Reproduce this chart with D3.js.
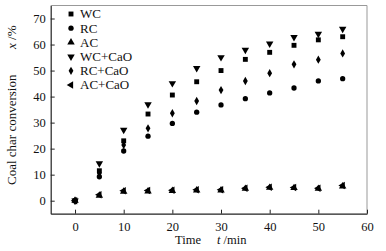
<!DOCTYPE html>
<html><head><meta charset="utf-8">
<script src="https://cdn.jsdelivr.net/npm/d3@7"></script>
<style>body{margin:0;background:#fff}svg{display:block}text{font-family:"Liberation Serif","Times New Roman",serif;fill:#111}</style>
</head><body><svg id="c" width="386" height="251"></svg>
<script>
const times = [0,5,10,15,20,25,30,35,40,45,50,55];
const WC     = [0,11.5,23.0,33.3,40.6,45.7,50.0,54.3,57.0,59.7,61.8,63.0];
const RC     = [0,9.2,19.1,24.8,29.7,34.0,36.8,39.2,41.4,43.3,46.0,46.9];
const AC     = [0,2.0,3.5,3.6,3.8,4.0,4.0,4.6,5.0,4.9,4.6,5.5];
const WCCaO  = [0,14.3,27.2,37.0,45.1,50.9,55.1,57.9,60.3,62.8,64.1,66.0];
const RCCaO  = [0,10.5,21.4,27.8,33.6,38.3,42.5,46.0,49.0,52.4,54.2,56.6];
const ACCaO  = [0,2.3,3.8,3.9,4.0,4.2,4.2,4.8,5.2,5.1,4.8,5.8];
const seriesNames = ["WC","RC","AC","WC+CaO","RC+CaO","AC+CaO"];
const xTicks = [0,10,20,30,40,50,60];
const yTicks = [0,10,20,30,40,50,60,70];

const series = [
  {name:seriesNames[0], values:WC,    sym:d3.symbolSquare,   size:24, rot:0},
  {name:seriesNames[1], values:RC,    sym:d3.symbolCircle,   size:22, rot:0},
  {name:seriesNames[2], values:AC,    sym:d3.symbolTriangle, size:24, rot:0},
  {name:seriesNames[3], values:WCCaO, sym:d3.symbolTriangle, size:24, rot:180},
  {name:seriesNames[4], values:RCCaO, sym:d3.symbolDiamond,  size:20, rot:0},
  {name:seriesNames[5], values:ACCaO, sym:d3.symbolTriangle, size:24, rot:-90}
];

const svg = d3.select("#c");
const L=50.7, R=367, T=5.5, B=213.7;
const x = d3.scaleLinear().domain([-5,60]).range([L,R]);
const y = d3.scaleLinear().domain([-5,75]).range([B,T]);

svg.append("line").attr("x1",L).attr("x2",R).attr("y1",T).attr("y2",T).attr("stroke","#999").attr("stroke-width",1);
svg.append("line").attr("x1",R).attr("x2",R).attr("y1",T).attr("y2",B).attr("stroke","#999").attr("stroke-width",1);

const xAxis = svg.append("g").attr("transform",`translate(0,${B})`)
  .call(d3.axisBottom(x).tickValues(xTicks).tickSizeInner(-4).tickSizeOuter(0).tickPadding(8));
const yAxis = svg.append("g").attr("transform",`translate(${L},0)`)
  .call(d3.axisLeft(y).tickValues(yTicks).tickSizeInner(-4).tickSizeOuter(0).tickPadding(5));
[xAxis,yAxis].forEach(g=>{
  g.select(".domain").attr("stroke","#222").attr("stroke-width",1.2);
  g.selectAll(".tick line").attr("stroke","#222");
  g.selectAll(".tick text").style("font-family",'"Liberation Serif",serif').style("font-size","12.5px").attr("fill","#111");
});

const sym = (s)=>d3.symbol().type(s.sym).size(s.size)();
series.forEach(s=>{
  svg.append("g").selectAll("path").data(s.values).join("path")
    .attr("d",sym(s))
    .attr("fill","#000")
    .attr("transform",(d,i)=>`translate(${x(times[i])},${y(d)}) rotate(${s.rot})`);
});

const lg = svg.append("g");
series.forEach((s,i)=>{
  const yy = 14 + i*14.2;
  lg.append("path").attr("d",sym(s)).attr("fill","#000").attr("transform",`translate(71,${yy}) rotate(${s.rot})`);
  lg.append("text").attr("x",80).attr("y",yy+4.4).style("font-size","13px").text(s.name);
});

svg.append("text").attr("x",175).attr("y",244).style("font-size","12.5px").text("Time");
const tt = svg.append("text").attr("x",217).attr("y",244).style("font-size","12.5px");
tt.append("tspan").style("font-style","italic").text("t");
tt.append("tspan").text(" /min");

svg.append("text").attr("transform","translate(16,185) rotate(-90)").style("font-size","13px").text("Coal char conversion");
const yt = svg.append("text").attr("transform","translate(16,49) rotate(-90)").style("font-size","13px");
yt.append("tspan").style("font-style","italic").text("x");
yt.append("tspan").text(" /%");
</script></body></html>
